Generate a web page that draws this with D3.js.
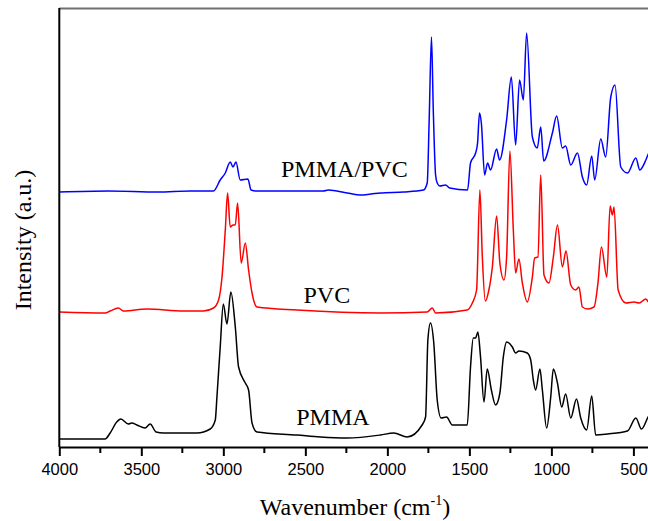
<!DOCTYPE html>
<html>
<head>
<meta charset="utf-8">
<script src="https://cdn.jsdelivr.net/npm/d3@7"></script>
<style>
  body { margin: 0; background: #fff; }
  .tick text { font-family: "Liberation Sans", Arial, sans-serif; font-size: 16.5px; }
  .serif { font-family: "Liberation Serif", "Times New Roman", serif; }
</style>
</head>
<body>
<div id="chart"></div>
<script>
// FTIR spectra, wavenumber (cm-1) vs intensity (a.u., offset stacked)
var pmmaPvcWn = [4000,3700,3400,3200,3080,3060,3019,2988,2958,2941,2923,2897,2850,2831,2795,2551,2390,2360,2245,2164,2100,2042,1900,1780,1757,1745,1731,1720,1706,1696,1680,1645,1620,1511,1493,1462,1450,1438,1427,1407,1389,1371,1334,1316,1273,1244,1218,1194,1171,1151,1116,1086,1065,1047,994,968,933,913,882,841,811,785,754,736,699,669,638,612,577,536,485,461,424,406,400];
var pmmaPvcI  = [255,256,255,256,256,256,267,274,285,280,285,267,268,257,256,256,256,257,254,252,253,254,255,257,264,327,410,337,272,264,261,262,259,257,284,294,304,334,324,272,284,277,298,287,327,370,302,367,347,414,310,299,320,286,314,331,299,301,282,294,270,262,291,267,308,290,350,362,280,274,289,277,287,294,295];

var pvcWn = [4000,3721,3690,3640,3609,3466,3243,3121,3060,3029,3008,2988,2974,2958,2941,2927,2913,2891,2866,2846,2825,2795,2551,2042,1757,1726,1706,1513,1482,1456,1436,1421,1403,1381,1360,1334,1314,1289,1273,1253,1232,1218,1198,1177,1147,1116,1102,1082,1065,1045,1015,988,963,933,911,882,852,832,811,780,740,716,695,662,642,628,618,593,546,496,465,424,406,400];
var pvcI  = [135,134,136,139,136,138,136,136,139,147,170,217,254,220,222,222,244,184,204,177,154,140,137,134,135,139,134,137,144,157,257,190,146,157,180,231,184,167,190,296,217,174,188,164,145,170,189,190,272,172,164,190,222,180,196,162,157,160,140,138,140,164,200,170,241,232,240,157,144,145,144,148,145,146];

var pmmaWn = [4000,3721,3690,3650,3625,3579,3558,3527,3477,3446,3410,3365,3161,3080,3049,3039,3019,3000,2978,2954,2927,2907,2866,2846,2825,2795,2551,2408,2245,2042,1961,1879,1788,1767,1753,1737,1717,1696,1672,1639,1604,1513,1493,1476,1462,1448,1432,1411,1391,1366,1340,1314,1293,1273,1238,1218,1198,1147,1126,1110,1096,1070,1055,1029,1004,988,963,937,913,882,847,821,785,754,730,658,536,485,451,406,400];
var pmmaI  = [8,8,14,25,28,23,24,22,19,23,15,14,14,18,27,50,100,143,123,155,120,80,64,57,24,15,12,10,9,12,14,10,22,30,107,124,104,47,29,30,22,22,80,109,109,115,90,45,78,57,42,54,90,105,100,94,96,94,87,67,57,78,57,19,50,78,64,40,53,29,48,29,17,51,12,13,16,29,18,31,32];

var seriesNames  = ["PMMA/PVC", "PVC", "PMMA"];
var seriesColors = ["#0000ff", "#ff0000", "#000000"];
// label anchor points (wavenumber, intensity)
var labelWn = [2262, 2369, 2332];
var labelI  = [270, 144, 22];

var xTicks = [4000, 3500, 3000, 2500, 2000, 1500, 1000, 500];
var xMinor = [3750, 3250, 2750, 2250, 1750, 1250, 750];

var width = 648, height = 521;
var margin = {top: 8, left: 59.3, bottom: 74};

var svg = d3.select("#chart").append("svg")
    .attr("width", width)
    .attr("height", height);

var x = d3.scaleLinear().domain([4000, 400]).range([margin.left, 649.8]);
var y = d3.scaleLinear().domain([0, 439]).range([height - margin.bottom, margin.top]);

var spectra = [
  d3.zip(pmmaPvcWn, pmmaPvcI),
  d3.zip(pvcWn, pvcI),
  d3.zip(pmmaWn, pmmaI)
];

var line = d3.line()
    .x(function(d) { return x(d[0]); })
    .y(function(d) { return y(d[1]); })
    .curve(d3.curveMonotoneX);

svg.append("g")
  .selectAll("path")
  .data(spectra)
  .enter()
  .append("path")
    .attr("fill", "none")
    .attr("stroke", function(d, i) { return seriesColors[i]; })
    .attr("stroke-width", 1.5)
    .attr("stroke-linejoin", "round")
    .attr("d", line);

// top frame
svg.append("line")
    .attr("x1", margin.left).attr("x2", width)
    .attr("y1", margin.top + 0.5).attr("y2", margin.top + 0.5)
    .attr("stroke", "#707070")
    .attr("stroke-width", 2);

// left spine
svg.append("line")
    .attr("x1", margin.left).attr("x2", margin.left)
    .attr("y1", margin.top).attr("y2", y(0))
    .attr("stroke", "#000")
    .attr("stroke-width", 2);

// x axis
var xAxis = svg.append("g")
    .attr("transform", "translate(0," + y(0) + ")")
    .call(d3.axisBottom(x).tickValues(xTicks).tickFormat(d3.format("d"))
      .tickSize(9).tickPadding(7).tickSizeOuter(0));
xAxis.select(".domain").attr("stroke-width", 2);
xAxis.selectAll(".tick line").attr("stroke-width", 2);
xAxis.selectAll(".tick text").attr("fill", "#000");

xAxis.selectAll(".minor")
  .data(xMinor)
  .enter()
  .append("line")
    .attr("class", "minor")
    .attr("x1", function(d) { return x(d); })
    .attr("x2", function(d) { return x(d); })
    .attr("y1", 0).attr("y2", 6)
    .attr("stroke", "#000")
    .attr("stroke-width", 2);

// series labels
svg.append("g")
  .selectAll("text")
  .data(seriesNames)
  .enter()
  .append("text")
    .attr("class", "serif")
    .attr("x", function(d, i) { return x(labelWn[i]); })
    .attr("y", function(d, i) { return y(labelI[i]); })
    .attr("text-anchor", "middle")
    .attr("font-size", 24)
    .text(function(d) { return d; });

// axis titles
var xTitle = svg.append("text")
    .attr("class", "serif")
    .attr("x", 355)
    .attr("y", 515)
    .attr("text-anchor", "middle")
    .attr("font-size", 24);
xTitle.append("tspan").text("Wavenumber (cm");
xTitle.append("tspan").attr("font-size", 14).attr("dy", -10).text("-1");
xTitle.append("tspan").attr("dy", 10).text(")");

svg.append("text")
    .attr("class", "serif")
    .attr("transform", "translate(31,240)rotate(-90)")
    .attr("text-anchor", "middle")
    .attr("font-size", 24)
    .text("Intensity (a.u.)");
</script>
</body>
</html>
